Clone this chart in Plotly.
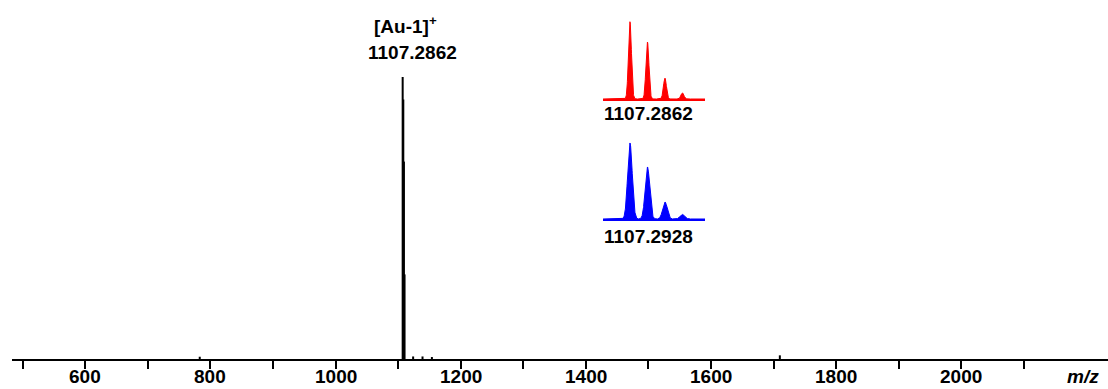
import plotly.graph_objects as go
import numpy as np

# ---------------- data ----------------
# main spectrum (stick list): m/z and relative intensity (%)
main_mz = [783.0, 1107.29, 1108.29, 1109.29, 1110.29, 1124.0, 1139.0, 1154.0, 1710.0]
main_int = [0.8, 100.0, 92.0, 70.0, 30.0, 0.9, 0.9, 0.7, 1.3]

# inset isotope patterns (peak list)
iso_mz = [1107.29, 1108.29, 1109.29, 1110.29]
exp_int = [100.0, 73.7, 27.0, 7.8]     # red
sim_int = [100.0, 68.4, 22.4, 6.0]     # blue

x_ticks = [500, 600, 700, 800, 900, 1000, 1100, 1200, 1300, 1400, 1500,
           1600, 1700, 1800, 1900, 2000, 2100]
x_ticklabels = ["", "600", "", "800", "", "1000", "", "1200", "", "1400", "",
                "1600", "", "1800", "", "2000", ""]

peak_label = "[Au-1]<sup>+</sup>"
peak_value = "1107.2862"
exp_label = "1107.2862"
sim_label = "1107.2928"
axis_title = "<i>m/z</i>"

# ---------------- helpers ----------------
W, H = 1108, 389
ML, MB = 12, 30
plot_w, plot_h = W - ML, H - MB


def px(xp):
    return (xp - ML) / plot_w


def py(yp):
    return (plot_h - yp) / plot_h


def sticks(mz, inten):
    xs, ys = [], []
    for m, i in zip(mz, inten):
        xs += [m, m, None]
        ys += [0, i, None]
    return xs, ys


def profile(mz, inten, sigma, lo, hi):
    grid = np.linspace(lo, hi, 800)
    prof = np.zeros_like(grid)
    for m, i in zip(mz, inten):
        prof += i * np.exp(-0.5 * ((grid - m) / sigma) ** 2)
    return grid, prof


FONT = "Liberation Sans, Arial, sans-serif"

fig = go.Figure()

sx, sy = sticks(main_mz, main_int)
fig.add_trace(go.Scatter(x=sx, y=sy, mode="lines",
                         line=dict(color="black", width=2),
                         xaxis="x", yaxis="y", hoverinfo="skip"))

ix_lo, ix_hi = 1105.75, 1111.58
gx, gy = profile(iso_mz, exp_int, 0.085, ix_lo, ix_hi)
fig.add_trace(go.Scatter(x=gx, y=gy, mode="lines", fill="tozeroy",
                         line=dict(color="#ff0000", width=1),
                         fillcolor="#ff0000", xaxis="x2", yaxis="y2",
                         hoverinfo="skip"))
bx, by = profile(iso_mz, sim_int, 0.13, ix_lo, ix_hi)
fig.add_trace(go.Scatter(x=bx, y=by, mode="lines", fill="tozeroy",
                         line=dict(color="#0000ff", width=1),
                         fillcolor="#0000ff", xaxis="x3", yaxis="y3",
                         hoverinfo="skip"))

inset_axis = dict(showgrid=False, zeroline=False, showticklabels=False,
                  ticks="", showline=True, linewidth=2.2, mirror=False,
                  automargin=False)

fig.update_layout(
    width=W, height=H,
    margin=dict(l=ML, r=0, t=0, b=MB, autoexpand=False),
    paper_bgcolor="white", plot_bgcolor="white",
    showlegend=False,
    xaxis=dict(range=[483.0, 2234.4], domain=[0, 1], automargin=False,
               tickmode="array", tickvals=x_ticks, showticklabels=False,
               ticks="outside", ticklen=8, tickwidth=2, tickcolor="black",
               showline=True, linewidth=2, linecolor="black",
               showgrid=False, zeroline=False),
    yaxis=dict(range=[0, 127.3], visible=False, domain=[0, 1]),
    xaxis2=dict(inset_axis, range=[ix_lo, ix_hi], anchor="y2",
                domain=[px(603), px(705)], linecolor="#ff0000"),
    yaxis2=dict(range=[0, 108.7], visible=False, anchor="x2",
                domain=[py(99), py(15)]),
    xaxis3=dict(inset_axis, range=[ix_lo, ix_hi], anchor="y3",
                domain=[px(603), px(705)], linecolor="#0000ff"),
    yaxis3=dict(range=[0, 110.5], visible=False, anchor="x3",
                domain=[py(219), py(135)]),
)

ann_font = dict(family=FONT, size=19, color="black", weight="bold")

# tick labels placed through the x axis scale
for tv, tl in zip(x_ticks, x_ticklabels):
    if tl:
        fig.add_annotation(text=tl, x=tv, y=py(377), xref="x", yref="paper",
                           showarrow=False, font=ann_font, xanchor="center",
                           yanchor="middle")

annots = [
    (peak_label, 405, 25),
    (peak_value, 412, 52),
    (exp_label, 648, 114),
    (sim_label, 648, 236),
    (axis_title, 1083, 377),
]
for txt, xp, yp in annots:
    fig.add_annotation(text=txt, x=px(xp), y=py(yp), xref="paper", yref="paper",
                       showarrow=False, font=ann_font, xanchor="center",
                       yanchor="middle")

fig.write_html("out.html")
